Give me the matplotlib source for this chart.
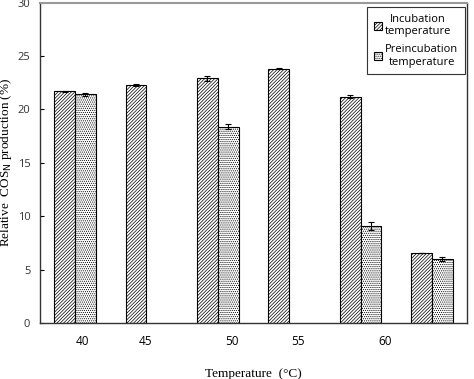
import matplotlib
matplotlib.use('Agg')
import matplotlib.pyplot as plt
import numpy as np

# Data
groups = [0, 1, 2, 3, 4, 5]
incubation = [21.7, 22.3, 22.9, 23.8, 21.2, 6.6]
incubation_err = [0.05, 0.12, 0.22, 0.05, 0.15, 0.0]
preincubation = [21.4, np.nan, 18.4, np.nan, 9.1, 6.0]
preincubation_err = [0.12, np.nan, 0.2, np.nan, 0.35, 0.2]
tick_pos = [0.1, 0.98, 2.2, 3.12, 4.34]
tick_labels = ['40', '45', '50', '55', '60']

plt.rcParams['hatch.linewidth'] = 0.5
plt.rcParams['hatch.color'] = '#333333'

fig = plt.figure(figsize=(4.74, 3.79), dpi=100)
ax = fig.add_axes([0.0844, 0.1478, 0.9008, 0.8452])

w = 0.29
x = np.array(groups, dtype=float)

# Bars
ax.bar(x - w / 2, incubation, w, color='white', edgecolor='black', linewidth=0.8,
       hatch='//////////', label='Incubation\ntemperature')
ax.bar(x + w / 2, preincubation, w, color='white', edgecolor='black', linewidth=0.8,
       hatch='........', label='Preincubation\ntemperature')

# Error bars
ax.errorbar(x - w / 2, incubation, yerr=incubation_err, fmt='none', ecolor='black',
            elinewidth=0.8, capsize=2.5, capthick=0.8)
ax.errorbar(x + w / 2, preincubation, yerr=preincubation_err, fmt='none', ecolor='black',
            elinewidth=0.8, capsize=2.5, capthick=0.8)

# Axes limits and ticks
ax.set_xlim(-0.49, 5.49)
ax.set_ylim(0, 30)
ax.set_yticks([0, 5, 10, 15, 20, 25, 30])
ax.set_xticks(tick_pos)
ax.set_xticklabels(tick_labels, fontfamily='Open Sans', fontsize=8.5)
ax.tick_params(axis='x', length=0, pad=9)
ax.tick_params(axis='y', direction='in', length=3, width=0.8, pad=7, labelsize=8)
for lab in ax.get_yticklabels():
    lab.set_fontfamily('Open Sans')
    lab.set_color('#333333')

for side in ['left', 'bottom', 'right']:
    ax.spines[side].set_color('#333333')
    ax.spines[side].set_linewidth(1.0)
ax.spines['top'].set_color('#999999')
ax.spines['top'].set_linewidth(1.5)

# Axis labels
ax.set_xlabel('Temperature  (°C)', fontfamily='Liberation Serif', fontsize=9.5, labelpad=14)
ax.set_ylabel('Relative  COS$_\\mathsf{N}$ production (%)', fontfamily='Liberation Serif',
              fontsize=9.5)
ax.yaxis.set_label_coords(-0.06, 0.5)

# Legend
leg = ax.legend(loc='upper right', bbox_to_anchor=(0.995, 0.986), borderaxespad=0,
                fancybox=False, edgecolor='#333333', framealpha=1,
                handlelength=0.7, handleheight=0.7, handletextpad=0.3,
                borderpad=0.6, labelspacing=0.6,
                prop={'family': 'Open Sans', 'size': 8})
leg.get_frame().set_linewidth(0.8)
for t in leg.get_texts():
    t.set_multialignment('center')

fig.savefig('out.png', dpi=100)
